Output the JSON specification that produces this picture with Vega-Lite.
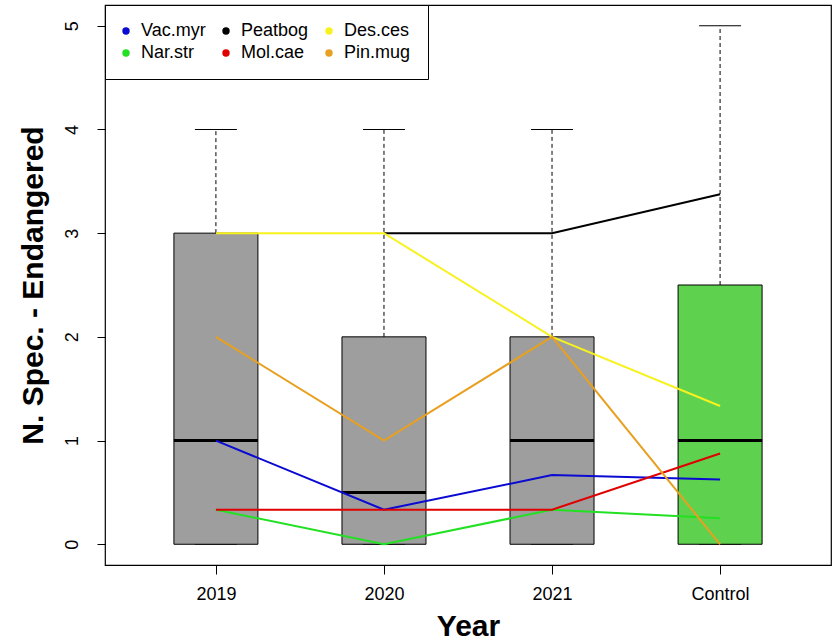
{
  "$schema": "https://vega.github.io/schema/vega-lite/v6.json",
  "width": 726,
  "height": 560,
  "autosize": "none",
  "padding": {"left": 105, "top": 5, "right": 3, "bottom": 79},
  "background": "white",
  "config": {
    "font": "Liberation Sans",
    "view": {"stroke": "black", "strokeWidth": 1.2},
    "axis": {"grid": false, "domain": false, "labelColor": "black", "tickColor": "black", "titleColor": "black", "labelFont": "Liberation Sans", "titleFont": "Liberation Sans"}
  },
  "datasets": {
    "boxes": [
      {"group": "2019", "lower": 0, "q1": 0, "median": 1, "q3": 3, "upper": 4},
      {"group": "2020", "lower": 0, "q1": 0, "median": 0.5, "q3": 2, "upper": 4},
      {"group": "2021", "lower": 0, "q1": 0, "median": 1, "q3": 2, "upper": 4},
      {"group": "Control", "lower": 0, "q1": 0, "median": 1, "q3": 2.5, "upper": 5}
    ],
    "species": [
      {"species": "Vac.myr", "group": "2019", "value": 1},
      {"species": "Vac.myr", "group": "2020", "value": 0.333},
      {"species": "Vac.myr", "group": "2021", "value": 0.667},
      {"species": "Vac.myr", "group": "Control", "value": 0.625},
      {"species": "Nar.str", "group": "2019", "value": 0.333},
      {"species": "Nar.str", "group": "2020", "value": 0},
      {"species": "Nar.str", "group": "2021", "value": 0.333},
      {"species": "Nar.str", "group": "Control", "value": 0.25},
      {"species": "Peatbog", "group": "2020", "value": 3},
      {"species": "Peatbog", "group": "2021", "value": 3},
      {"species": "Peatbog", "group": "Control", "value": 3.375},
      {"species": "Mol.cae", "group": "2019", "value": 0.333},
      {"species": "Mol.cae", "group": "2020", "value": 0.333},
      {"species": "Mol.cae", "group": "2021", "value": 0.333},
      {"species": "Mol.cae", "group": "Control", "value": 0.875},
      {"species": "Des.ces", "group": "2019", "value": 3},
      {"species": "Des.ces", "group": "2020", "value": 3},
      {"species": "Des.ces", "group": "2021", "value": 2},
      {"species": "Des.ces", "group": "Control", "value": 1.333},
      {"species": "Pin.mug", "group": "2019", "value": 2},
      {"species": "Pin.mug", "group": "2020", "value": 1},
      {"species": "Pin.mug", "group": "2021", "value": 2},
      {"species": "Pin.mug", "group": "Control", "value": 0}
    ]
  },
  "encoding": {
    "x": {
      "field": "group",
      "type": "nominal",
      "sort": ["2019", "2020", "2021", "Control"],
      "scale": {"type": "point", "domain": ["2019", "2020", "2021", "Control"], "padding": 0.66},
      "axis": {
        "title": "Year",
        "labelAngle": 0,
        "labelFontSize": 18,
        "labelPadding": 11,
        "tickSize": 9,
        "titleFontSize": 30,
        "titleFontWeight": "bold",
        "titleX": 363,
        "titleY": 70,
        "titleAnchor": null,
        "titleAlign": "center",
        "titleBaseline": "alphabetic"
      }
    }
  },
  "layer": [
    {
      "data": {"name": "boxes"},
      "mark": {"type": "rule", "strokeDash": [4, 3], "strokeWidth": 1, "color": "black"},
      "encoding": {
        "y": {
          "field": "q3",
          "type": "quantitative",
          "scale": {"domain": [-0.2, 5.2], "nice": false, "zero": false},
          "axis": {
            "title": "N. Spec. - Endangered",
            "values": [0, 1, 2, 3, 4, 5],
            "format": "d",
            "labelAngle": 270,
            "labelAlign": "center",
            "labelBaseline": "bottom",
            "labelFontSize": 18,
            "labelPadding": 16,
            "tickSize": 8,
            "titleFontSize": 30,
            "titleFontWeight": "bold",
            "titleAngle": 270,
            "titleX": -72,
            "titleY": 280,
            "titleAlign": "center",
            "titleBaseline": "middle"
          }
        },
        "y2": {"field": "upper"}
      }
    },
    {
      "data": {"name": "boxes"},
      "mark": {"type": "tick", "orient": "horizontal", "size": 42, "thickness": 1, "color": "black", "opacity": 1},
      "encoding": {"y": {"field": "upper", "type": "quantitative"}}
    },
    {
      "data": {"name": "boxes"},
      "mark": {"type": "tick", "orient": "horizontal", "size": 42, "thickness": 1, "color": "black", "opacity": 1},
      "encoding": {"y": {"field": "lower", "type": "quantitative"}}
    },
    {
      "data": {"name": "boxes"},
      "mark": {"type": "bar", "width": 84, "stroke": "black", "strokeWidth": 1, "opacity": 1},
      "encoding": {
        "y": {"field": "q1", "type": "quantitative"},
        "y2": {"field": "q3"},
        "fill": {
          "condition": {"test": "datum.group === 'Control'", "value": "#5ED14F"},
          "value": "#9E9E9E"
        }
      }
    },
    {
      "data": {"name": "boxes"},
      "mark": {"type": "tick", "orient": "horizontal", "size": 84, "thickness": 3, "color": "black", "opacity": 1},
      "encoding": {"y": {"field": "median", "type": "quantitative"}}
    },
    {
      "data": {"name": "species"},
      "mark": {"type": "line", "strokeWidth": 2},
      "encoding": {
        "y": {"field": "value", "type": "quantitative"},
        "color": {
          "field": "species",
          "type": "nominal",
          "scale": {
            "domain": ["Vac.myr", "Peatbog", "Des.ces", "Nar.str", "Mol.cae", "Pin.mug"],
            "range": ["#0A0AD2", "#000000", "#F7F21E", "#22E022", "#E00000", "#E8A020"]
          },
          "legend": {
            "title": null,
            "orient": "top-left",
            "offset": 0,
            "columns": 3,
            "direction": "horizontal",
            "symbolType": "circle",
            "symbolSize": 55,
            "symbolStrokeWidth": 0,
            "symbolOffset": -5,
            "labelFontSize": 18,
            "labelColor": "black",
            "labelFont": "Liberation Sans",
            "labelOffset": 6,
            "columnPadding": 16,
            "rowPadding": 4,
            "padding": 17,
            "strokeColor": "black",
            "fillColor": "white",
            "encode": {
              "symbols": {"update": {"fill": {"scale": "color", "field": "value"}, "strokeWidth": {"value": 0}}}
            }
          }
        }
      }
    }
  ]
}
